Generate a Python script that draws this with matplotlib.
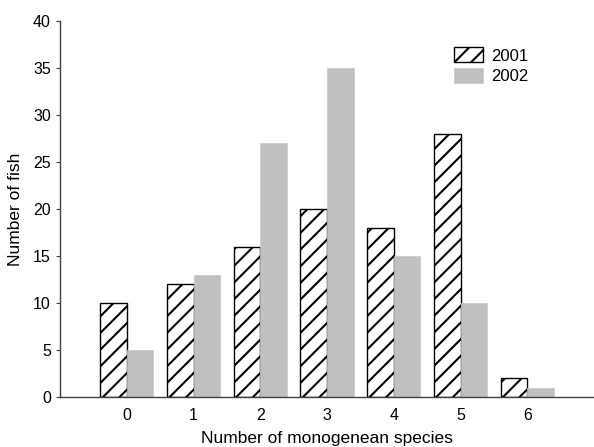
import matplotlib
matplotlib.use('Agg')
import matplotlib.pyplot as plt
import numpy as np

plt.rcParams['font.family'] = ['Liberation Sans', 'DejaVu Sans']
plt.rcParams['hatch.linewidth'] = 1.5

# fish counts per number of monogenean species
species = [0, 1, 2, 3, 4, 5, 6]
fish_2001 = [10, 12, 16, 20, 18, 28, 2]
fish_2002 = [5, 13, 27, 35, 15, 10, 1]

fig = plt.figure(figsize=(5.94, 4.47), dpi=100)
ax = fig.add_axes([60 / 594, 1 - 397 / 447, 1 - 60 / 594, (397 - 21) / 447])

x = np.arange(len(species))
w = 0.4
ax.bar(x - w / 2, fish_2001, w, color='white', edgecolor='black',
       linewidth=1.0, hatch='//', label='2001')
ax.bar(x + w / 2, fish_2002, w, color='#c0c0c0', edgecolor='#c8c8c8',
       linewidth=0.5, label='2002')

ax.set_xlim(-1, 7)
ax.set_ylim(0, 40)
ax.set_xticks(x)
ax.set_xticklabels([str(s) for s in species])
ax.set_yticks(range(0, 41, 5))
ax.tick_params(axis='x', length=0, pad=8, labelsize=11.5)
ax.tick_params(axis='y', length=3, width=0.8, color='#404040', labelsize=11.5)

for side in ['top', 'right']:
    ax.spines[side].set_visible(False)
for side in ['left', 'bottom']:
    ax.spines[side].set_color('#404040')
    ax.spines[side].set_linewidth(1.0)

ax.set_xlabel('Number of monogenean species', fontsize=12.5, labelpad=6)
ax.set_ylabel('Number of fish', fontsize=12.5, labelpad=7)

ax.legend(loc='upper left', bbox_to_anchor=(0.723, 0.952), frameon=False,
          fontsize=12, handlelength=1.7, handleheight=1.0,
          handletextpad=0.5, labelspacing=0.25, borderpad=0)

fig.savefig('out.png', dpi=100)
